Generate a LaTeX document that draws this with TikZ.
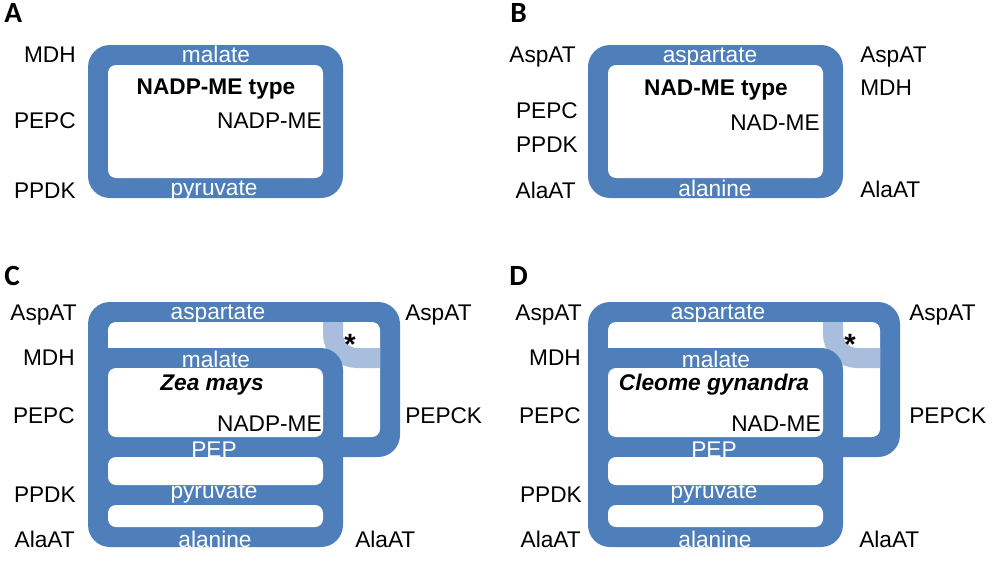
\documentclass[tikz,border=0pt]{standalone}
\usepackage{fontspec}
\setmainfont{Liberation Sans}
\newfontfamily\panelfont{Carlito}
\definecolor{cycleblue}{HTML}{4F7FBB}
\definecolor{paleblue}{HTML}{A8BEDC}
\newcommand{\lblsize}{\fontsize{17}{20}\selectfont}
\begin{document}
\begin{tikzpicture}[x=0.75pt, y=-0.75pt,
		band/.style={fill=cycleblue, rounded corners=16.5pt},
		gap/.style={fill=white, rounded corners=6pt},
		shunt/.style={draw=paleblue, line width=15pt, rounded corners=18pt},
		panel/.style={font=\panelfont\bfseries\fontsize{22}{24}\selectfont, anchor=base west, inner sep=0pt},
		enzl/.style={font=\lblsize, anchor=base east, inner sep=0pt},
		enzr/.style={font=\lblsize, anchor=base west, inner sep=0pt},
		met/.style={font=\lblsize, text=white, anchor=base, inner sep=0pt},
		kind/.style={font=\lblsize\bfseries, anchor=base, inner sep=0pt},
		species/.style={font=\lblsize\bfseries\itshape, anchor=base, inner sep=0pt},
		star/.style={font=\fontsize{22}{24}\selectfont\bfseries, inner sep=0pt}]
	\useasboundingbox (0,0) rectangle (992,578);

	% A
	\fill[band] (88,45) rectangle (343,198);
	\fill[gap] (108,65) rectangle (323,178);
	\node[panel] (labA) at (4,22) {A};
	\node[enzl] (mdhA) at (76,62) {MDH};
	\node[enzl] (pepcA) at (76,128) {PEPC};
	\node[enzl] (ppdkA) at (76,198) {PPDK};
	\node[met] (malA) at (216,62) {malate};
	\node[kind] (typeA) at (216,94) {NADP-ME type};
	\node[enzl] (meA) at (322,128) {NADP-ME};
	\node[met] (pyrA) at (214,195) {pyruvate};

	% B
	\fill[band] (588,45) rectangle (843,198);
	\fill[gap] (608,65) rectangle (823,178);
	\node[panel] (labB) at (510,22) {B};
	\node[enzl] (aspLB) at (576,62) {AspAT};
	\node[enzl] (pepcB) at (578,118) {PEPC};
	\node[enzl] (ppdkB) at (578,152) {PPDK};
	\node[enzl] (alaLB) at (576,198) {AlaAT};
	\node[enzr] (aspRB) at (860,62) {AspAT};
	\node[enzr] (mdhB) at (860,95) {MDH};
	\node[enzr] (alaRB) at (860,197) {AlaAT};
	\node[met] (aspB) at (710,62) {aspartate};
	\node[kind] (typeB) at (716,95) {NAD-ME type};
	\node[enzl] (meB) at (820,130) {NAD-ME};
	\node[met] (alaB) at (715,196) {alanine};

	% C
	\fill[band] (88,302) rectangle (400,457);
	\fill[gap] (108,322) rectangle (380,437);
	\draw[shunt] (333,322) -- (333,358) -- (380,358);
	\fill[band] (88,348) rectangle (343,547);
	\fill[gap] (108,368) rectangle (323,437);
	\fill[gap] (108,457) rectangle (323,485);
	\fill[gap] (108,505) rectangle (323,527);
	\node[panel] (labC) at (4,285) {C};
	\node[enzl] (aspLC) at (77,320) {AspAT};
	\node[enzl] (mdhC) at (75,365) {MDH};
	\node[enzl] (pepcC) at (75,423) {PEPC};
	\node[enzl] (ppdkC) at (76,502) {PPDK};
	\node[enzl] (alaLC) at (75,547) {AlaAT};
	\node[enzr] (aspRC) at (405,320) {AspAT};
	\node[enzr] (pepckC) at (405,423) {PEPCK};
	\node[enzr] (alaRC) at (355,547) {AlaAT};
	\node[met] (aspC) at (218,319) {aspartate};
	\node[met] (malC) at (216,367) {malate};
	\node[species] (spC) at (212,390) {Zea mays};
	\node[enzl] (meC) at (322,431) {NADP-ME};
	\node[met] (pepC) at (214,457) {PEP};
	\node[met] (pyrC) at (214,498) {pyruvate};
	\node[met] (alaC) at (215,547) {alanine};
	\node[star] (starC) at (350,344) {*};

	% D
	\fill[band] (588,302) rectangle (900,457);
	\fill[gap] (608,322) rectangle (880,437);
	\draw[shunt] (833,322) -- (833,358) -- (880,358);
	\fill[band] (588,348) rectangle (843,547);
	\fill[gap] (608,368) rectangle (823,437);
	\fill[gap] (608,457) rectangle (823,485);
	\fill[gap] (608,505) rectangle (823,527);
	\node[panel] (labD) at (509,285) {D};
	\node[enzl] (aspLD) at (582,320) {AspAT};
	\node[enzl] (mdhD) at (581,365) {MDH};
	\node[enzl] (pepcD) at (581,423) {PEPC};
	\node[enzl] (ppdkD) at (582,502) {PPDK};
	\node[enzl] (alaLD) at (581,547) {AlaAT};
	\node[enzr] (aspRD) at (909,320) {AspAT};
	\node[enzr] (pepckD) at (909,423) {PEPCK};
	\node[enzr] (alaRD) at (859,547) {AlaAT};
	\node[met] (aspD) at (718,319) {aspartate};
	\node[met] (malD) at (716,367) {malate};
	\node[species] (spD) at (714,390) {Cleome gynandra};
	\node[enzl] (meD) at (821,431) {NAD-ME};
	\node[met] (pepD) at (714,457) {PEP};
	\node[met] (pyrD) at (714,498) {pyruvate};
	\node[met] (alaD) at (715,547) {alanine};
	\node[star] (starD) at (850,344) {*};
\end{tikzpicture}
\end{document}
